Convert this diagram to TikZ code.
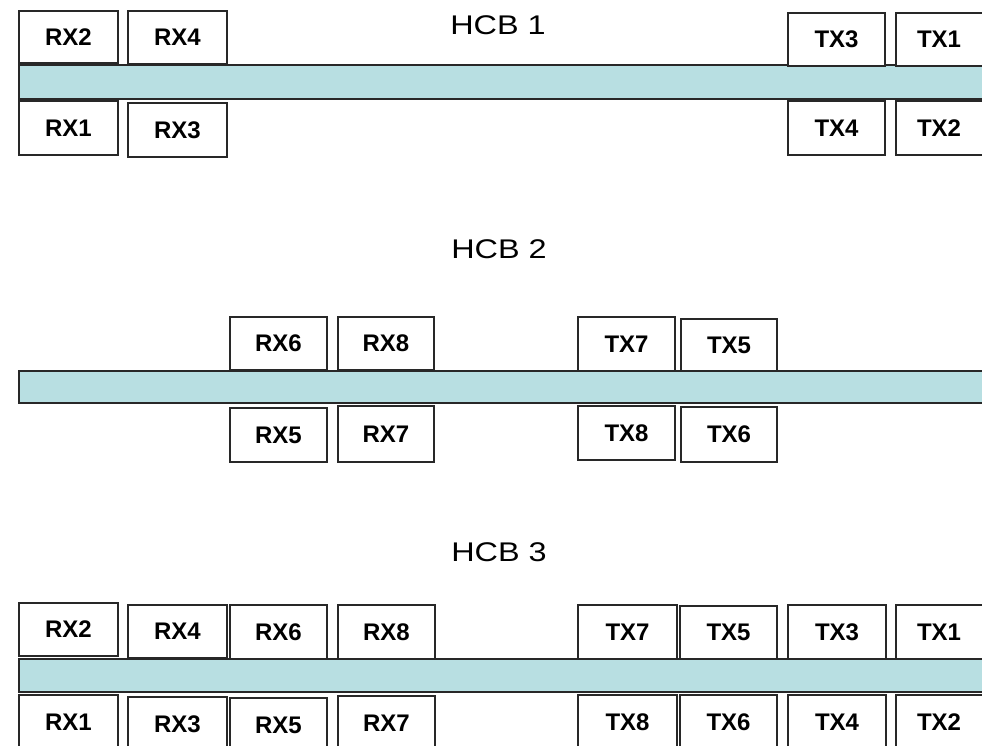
\documentclass[tikz,border=0pt]{standalone}
\usepackage{fontspec}
\setmainfont{Liberation Sans}
\definecolor{barfill}{RGB}{184,223,226}
\definecolor{edge}{RGB}{40,40,40}
\tikzset{
  unit/.style={draw=edge, line width=1.6pt, fill=white, inner sep=0pt,
    font=\bfseries\fontsize{24}{26}\selectfont},
  busbar/.style={draw=edge, line width=1.8pt, fill=barfill},
  title/.style={inner sep=0pt, font=\fontsize{27}{30}\selectfont}
}
\newcommand{\unitbox}[6]{%
  \node[unit, minimum width={(#4-#2)*1pt}, minimum height={(#5-#3)*1pt}]
    (#1) at ({(#2+#4)/2},{(#3+#5)/2}) {#6};}
\begin{document}
\begin{tikzpicture}[x=1pt,y=-1pt]
\useasboundingbox (0,0) rectangle (982,745);
\clip (0,0) rectangle (982,745);
% ---------- HCB 1 ----------
\node[title] (t1) at (498,25) {\scalebox{1.2}[1]{HCB 1}};
\draw[busbar] (19,65) rectangle (990,99);
\unitbox{a2}{19}{11}{118}{63}{RX2}
\unitbox{a4}{128}{11}{227}{64}{RX4}
\unitbox{a1}{19}{101}{118}{155}{RX1}
\unitbox{a3}{128}{103}{227}{157}{RX3}
\unitbox{at3}{788}{13}{885}{66}{TX3}
\unitbox{at1}{896}{13}{995}{66}{\hspace*{-13pt}TX1}
\unitbox{at4}{788}{101}{885}{155}{TX4}
\unitbox{at2}{896}{101}{995}{155}{\hspace*{-13pt}TX2}
% ---------- HCB 2 ----------
\node[title] (t2) at (499,249) {\scalebox{1.2}[1]{HCB 2}};
\draw[busbar] (19,371) rectangle (990,403);
\unitbox{b6}{230}{317}{327}{370}{RX6}
\unitbox{b8}{338}{317}{434}{370}{RX8}
\unitbox{b5}{230}{408}{327}{462}{RX5}
\unitbox{b7}{338}{406}{434}{462}{RX7}
\unitbox{bt7}{578}{317}{675}{371}{TX7}
\unitbox{bt5}{681}{319}{777}{371}{TX5}
\unitbox{bt8}{578}{406}{675}{460}{TX8}
\unitbox{bt6}{681}{407}{777}{462}{TX6}
% ---------- HCB 3 ----------
\node[title] (t3) at (499,552) {\scalebox{1.2}[1]{HCB 3}};
\draw[busbar] (19,659) rectangle (990,692);
\unitbox{c2}{19}{603}{118}{656}{RX2}
\unitbox{c4}{128}{605}{227}{658}{RX4}
\unitbox{c6}{230}{605}{327}{659}{RX6}
\unitbox{c8}{338}{605}{435}{659}{RX8}
\unitbox{c1}{19}{695}{118}{749}{RX1}
\unitbox{c3}{128}{697}{227}{751}{RX3}
\unitbox{c5}{230}{698}{327}{752}{RX5}
\unitbox{c7}{338}{696}{435}{750}{RX7}
\unitbox{ct7}{578}{605}{677}{659}{TX7}
\unitbox{ct5}{680}{606}{777}{659}{TX5}
\unitbox{ct3}{788}{605}{886}{659}{TX3}
\unitbox{ct1}{896}{605}{995}{659}{\hspace*{-13pt}TX1}
\unitbox{ct8}{578}{695}{677}{749}{TX8}
\unitbox{ct6}{680}{695}{777}{749}{TX6}
\unitbox{ct4}{788}{695}{886}{749}{TX4}
\unitbox{ct2}{896}{695}{995}{749}{\hspace*{-13pt}TX2}
\end{tikzpicture}
\end{document}
